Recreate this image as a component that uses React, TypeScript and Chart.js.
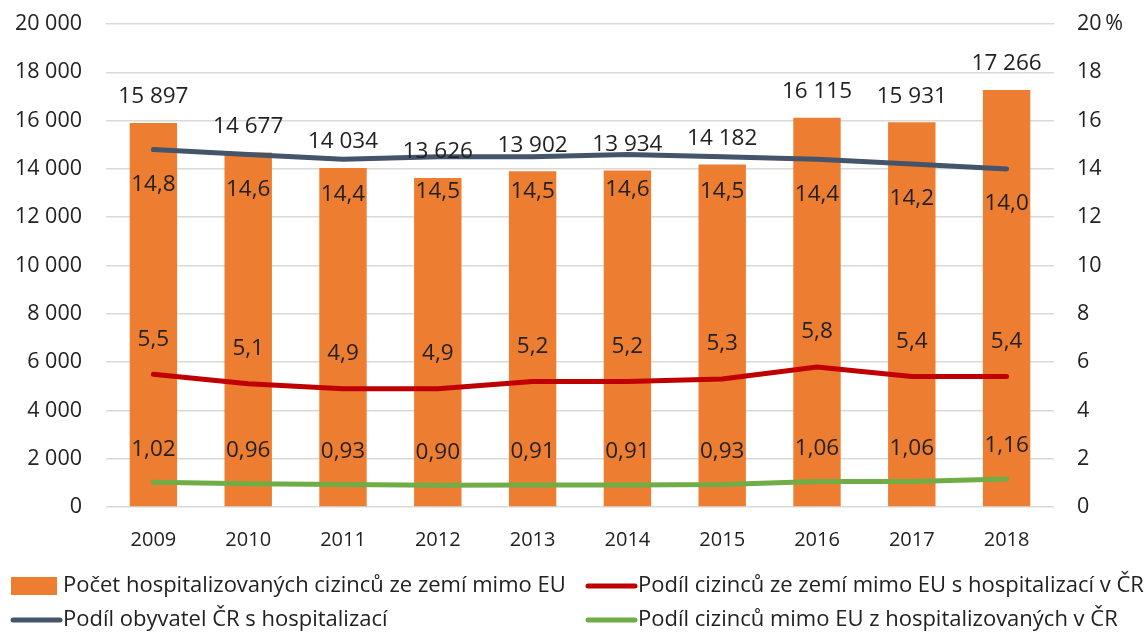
import { useEffect, useRef } from 'react';
import { Chart, registerables } from 'chart.js';

Chart.register(...registerables);

const years = ['2009', '2010', '2011', '2012', '2013', '2014', '2015', '2016', '2017', '2018'];
const hospitalizedForeigners = [15897, 14677, 14034, 13626, 13902, 13934, 14182, 16115, 15931, 17266];
const residentsShare = [14.8, 14.6, 14.4, 14.5, 14.5, 14.6, 14.5, 14.4, 14.2, 14.0];
const nonEuHospitalizedShare = [5.5, 5.1, 4.9, 4.9, 5.2, 5.2, 5.3, 5.8, 5.4, 5.4];
const nonEuOfAllHospitalizedShare = [1.02, 0.96, 0.93, 0.9, 0.91, 0.91, 0.93, 1.06, 1.06, 1.16];

const seriesNames = [
  'Počet hospitalizovaných cizinců ze zemí mimo EU',
  'Podíl obyvatel ČR s hospitalizací',
  'Podíl cizinců ze zemí mimo EU s hospitalizací v ČR',
  'Podíl cizinců mimo EU z hospitalizovaných v ČR',
];

const ORANGE = '#ED7D31';
const BLUE = '#44546A';
const RED = '#C00000';
const GREEN = '#70AD47';
const FONT = "'Open Sans', sans-serif";
const TEXT = '#222222';

const fmtThousands = (v: number) => {
  const s = Math.round(v).toString();
  return s.replace(/\B(?=(\d{3})+(?!\d))/g, ' ');
};
const fmtDec = (v: number, d: number) => v.toFixed(d).replace('.', ',');

const dataLabelsPlugin = {
  id: 'dataLabels',
  afterDatasetsDraw(chart: any) {
    const ctx = chart.ctx;
    ctx.save();
    ctx.font = `22.5px ${FONT}`;
    ctx.fillStyle = TEXT;
    ctx.textAlign = 'center';
    ctx.textBaseline = 'middle';
    const cfg: Record<number, { off: number; fmt: (v: number) => string }> = {
      0: { off: -26, fmt: fmtThousands },
      1: { off: 35, fmt: (v) => fmtDec(v, 1) },
      2: { off: -35, fmt: (v) => fmtDec(v, 1) },
      3: { off: -33, fmt: (v) => fmtDec(v, 2) },
    };
    chart.data.datasets.forEach((ds: any, i: number) => {
      const meta = chart.getDatasetMeta(i);
      meta.data.forEach((el: any, j: number) => {
        const c = cfg[i];
        ctx.fillText(c.fmt(ds.data[j]), el.x, el.y + c.off);
      });
    });
    ctx.restore();
  },
};

const legendPlugin = {
  id: 'customLegend',
  afterDraw(chart: any) {
    const ctx = chart.ctx;
    ctx.save();
    ctx.font = `22px ${FONT}`;
    ctx.fillStyle = TEXT;
    ctx.textBaseline = 'middle';
    ctx.textAlign = 'left';
    const items = [
      { name: seriesNames[0], color: ORANGE, box: true, x: 11, y: 586 },
      { name: seriesNames[2], color: RED, box: false, x: 586, y: 586 },
      { name: seriesNames[1], color: BLUE, box: false, x: 11, y: 620 },
      { name: seriesNames[3], color: GREEN, box: false, x: 586, y: 620 },
    ];
    items.forEach((it) => {
      if (it.box) {
        ctx.fillStyle = it.color;
        ctx.fillRect(it.x, it.y - 9, 46, 18);
      } else {
        ctx.strokeStyle = it.color;
        ctx.lineWidth = 5;
        ctx.lineCap = 'round';
        ctx.beginPath();
        ctx.moveTo(it.x + 2, it.y);
        ctx.lineTo(it.x + 49, it.y);
        ctx.stroke();
      }
      ctx.fillStyle = TEXT;
      ctx.fillText(it.name, it.x + 52, it.y);
    });
    ctx.restore();
  },
};

export default function App() {
  const ref = useRef<HTMLCanvasElement | null>(null);

  useEffect(() => {
    document.body.style.margin = '0';
    if (!ref.current) return;
    const chart = new Chart(ref.current, {
      type: 'bar',
      data: {
        labels: years,
        datasets: [
          {
            type: 'bar',
            label: seriesNames[0],
            data: hospitalizedForeigners,
            backgroundColor: ORANGE,
            yAxisID: 'y',
            order: 1,
            barPercentage: 0.5,
            categoryPercentage: 1,
          },
          {
            type: 'line',
            label: seriesNames[1],
            data: residentsShare,
            borderColor: BLUE,
            borderWidth: 5,
            pointRadius: 0,
            tension: 0,
            borderCapStyle: 'round',
            yAxisID: 'y1',
            order: 0,
          },
          {
            type: 'line',
            label: seriesNames[2],
            data: nonEuHospitalizedShare,
            borderColor: RED,
            borderWidth: 5,
            pointRadius: 0,
            tension: 0,
            borderCapStyle: 'round',
            yAxisID: 'y1',
            order: 0,
          },
          {
            type: 'line',
            label: seriesNames[3],
            data: nonEuOfAllHospitalizedShare,
            borderColor: GREEN,
            borderWidth: 5,
            pointRadius: 0,
            tension: 0,
            borderCapStyle: 'round',
            yAxisID: 'y1',
            order: 0,
          },
        ],
      } as any,
      options: {
        responsive: false,
        animation: false,
        layout: { padding: { top: 24, bottom: 75, left: 0, right: 0 } },
        plugins: {
          legend: { display: false },
          tooltip: { enabled: false },
          title: { display: false },
        },
        scales: {
          x: {
            grid: { display: false, drawTicks: false },
            border: { display: false },
            ticks: { color: TEXT, font: { family: FONT, size: 20 }, padding: 21 },
            afterFit: (s: any) => {
              s.height = 50;
              s.paddingLeft = 0;
              s.paddingRight = 0;
            },
          },
          y: {
            position: 'left',
            min: 0,
            max: 20000,
            grid: { color: '#D9D9D9', lineWidth: 1.5, drawTicks: false },
            border: { display: false },
            ticks: {
              stepSize: 2000,
              color: TEXT,
              font: { family: FONT, size: 21.5 },
              padding: 24,
              callback: (v: any) => fmtThousands(Number(v)),
            },
            afterFit: (s: any) => {
              s.width = 106;
              s.paddingTop = 0;
              s.paddingBottom = 0;
            },
          },
          y1: {
            position: 'right',
            min: 0,
            max: 20,
            grid: { display: false, drawTicks: false },
            border: { display: false },
            ticks: {
              stepSize: 2,
              color: TEXT,
              font: { family: FONT, size: 21.5 },
              padding: 23,
              callback: (v: any) => (Number(v) === 20 ? '20\u2009%' : String(v)),
            },
            afterFit: (s: any) => {
              s.width = 90;
              s.paddingTop = 0;
              s.paddingBottom = 0;
            },
          },
        },
      } as any,
      plugins: [dataLabelsPlugin, legendPlugin],
    });
    return () => chart.destroy();
  }, []);

  return (
    <div style={{ width: 1144, height: 632 }}>
      <canvas ref={ref} width={1144} height={632} style={{ display: 'block' }} />
    </div>
  );
}
